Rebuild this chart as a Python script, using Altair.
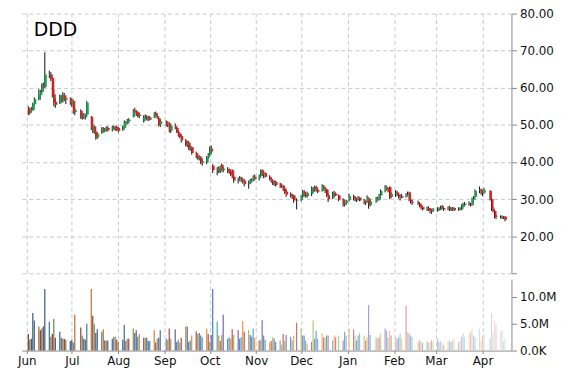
import altair as alt
import pandas as pd

ticker = "DDD"

month_keys = ["2014-06", "2014-07", "2014-08", "2014-09", "2014-10", "2014-11",
              "2014-12", "2015-01", "2015-02", "2015-03", "2015-04"]
month_days = [
    [2, 3, 4, 5, 6, 9, 10, 11, 12, 13, 16, 17, 18, 19, 20, 23, 24, 25, 26, 27, 30],
    [1, 2, 3, 7, 8, 9, 10, 11, 14, 15, 16, 17, 18, 21, 22, 23, 24, 25, 28, 29, 30, 31],
    [1, 4, 5, 6, 7, 8, 11, 12, 13, 14, 15, 18, 19, 20, 21, 22, 25, 26, 27, 28, 29],
    [2, 3, 4, 5, 8, 9, 10, 11, 12, 15, 16, 17, 18, 19, 22, 23, 24, 25, 26, 29, 30],
    [1, 2, 3, 6, 7, 8, 9, 10, 13, 14, 15, 16, 17, 20, 21, 22, 23, 24, 27, 28, 29, 30, 31],
    [3, 4, 5, 6, 7, 10, 11, 12, 13, 14, 17, 18, 19, 20, 21, 24, 25, 26, 28],
    [1, 2, 3, 4, 5, 8, 9, 10, 11, 12, 15, 16, 17, 18, 19, 22, 23, 24, 26, 29, 30, 31],
    [2, 5, 6, 7, 8, 9, 12, 13, 14, 15, 16, 20, 21, 22, 23, 26, 27, 28, 29, 30],
    [2, 3, 4, 5, 6, 9, 10, 11, 12, 13, 17, 18, 19, 20, 23, 24, 25, 26, 27],
    [2, 3, 4, 5, 6, 9, 10, 11, 12, 13, 16, 17, 18, 19, 20, 23, 24, 25, 26, 27, 30, 31],
    [1, 2, 6, 7, 8, 9, 10, 13, 14, 15, 16],
]

opens = [
    54.6, 53.2, 54.0, 54.0, 55.6, 57.0, 58.0, 59.0, 60.6, 60.2, 63.4, 63.6, 62.6, 58.2, 56.2, 55.8, 57.6, 56.6, 58.0, 56.8, 57.0,
    55.6, 56.4, 53.4, 53.8, 52.2, 52.4, 52.0, 52.8, 52.2, 48.2, 49.6, 48.0, 46.6, 47.8, 49.0, 48.4, 48.8, 49.2, 48.6, 49.4, 48.8, 49.4,
    49.2, 48.6, 49.2, 50.6, 50.6, 51.0, 52.2, 53.8, 53.6, 53.4, 52.4, 51.0, 52.2, 52.0, 51.6, 52.0, 52.0, 53.2, 52.4, 51.8, 50.2,
    51.0, 50.0, 50.4, 48.4, 49.6, 49.2, 48.0, 47.6, 47.0, 45.8, 44.6, 45.2, 43.6, 44.0, 42.4, 41.4, 41.0, 41.2, 39.8, 39.8, 41.2,
    42.0, 43.6, 39.0, 37.6, 38.2, 37.4, 39.2, 37.8, 38.0, 37.6, 37.4, 37.8, 36.0, 35.0, 35.4, 35.8, 34.8, 35.0, 34.2, 34.6, 35.0, 35.2, 36.0,
    35.6, 36.2, 37.8, 36.6, 37.0, 36.0, 35.4, 34.8, 34.2, 34.6, 34.2, 33.4, 33.6, 32.8, 32.0, 31.4, 30.8, 31.0, 29.6,
    29.8, 30.6, 32.0, 31.2, 30.8, 31.4, 32.8, 32.4, 33.2, 32.4, 32.2, 33.4, 32.6, 32.6, 31.0, 30.2, 31.6, 31.4, 31.0, 29.8, 28.6, 29.0,
    29.8, 30.8, 30.2, 29.8, 30.0, 30.4, 29.6, 29.0, 29.2, 30.2, 28.4, 29.4, 30.0, 29.8, 31.0, 32.2, 33.2, 32.6, 33.2, 30.6,
    31.4, 31.8, 31.2, 30.6, 30.8, 30.6, 31.2, 31.8, 29.8, 29.2, 29.0, 28.8, 28.2, 27.8, 27.4, 27.6, 27.2, 26.6, 27.0,
    27.0, 27.4, 27.2, 28.0, 27.6, 27.4, 27.8, 27.2, 27.2, 27.6, 27.0, 27.4, 27.2, 28.2, 28.4, 28.8, 28.6, 28.4, 29.8, 30.6, 32.2, 32.6,
    31.6, 31.8, 32.2, 30.0, 27.4, 26.8, 25.2, 25.2, 25.0, 25.2, 25.2,
]
highs = [
    55.0, 54.4, 54.8, 56.0, 57.4, 59.6, 59.4, 61.2, 61.4, 69.6, 64.6, 64.2, 62.8, 59.6, 57.0, 58.2, 58.0, 58.8, 58.6, 57.6, 57.4,
    57.2, 56.8, 54.6, 54.2, 53.0, 53.2, 53.0, 56.4, 52.4, 50.2, 49.8, 48.4, 48.0, 49.4, 49.4, 49.2, 49.6, 49.6, 49.8, 49.8, 49.6, 49.8,
    49.4, 49.8, 51.2, 51.0, 51.6, 51.8, 54.2, 54.6, 54.0, 53.6, 53.2, 52.6, 52.8, 52.6, 52.4, 52.4, 53.4, 53.6, 52.8, 52.0, 51.4,
    51.2, 50.6, 50.8, 50.2, 50.4, 49.6, 48.6, 48.0, 47.4, 46.2, 45.6, 45.6, 44.4, 44.2, 42.8, 42.2, 41.8, 41.6, 40.6, 41.6, 42.4,
    44.2, 44.4, 39.4, 38.6, 38.8, 39.0, 39.6, 38.6, 38.6, 38.2, 38.0, 38.0, 36.6, 35.8, 36.2, 36.0, 35.6, 35.4, 35.0, 35.4, 35.6, 36.4, 36.6,
    36.6, 38.0, 38.0, 37.4, 37.2, 36.4, 35.8, 35.2, 35.0, 35.0, 34.4, 34.0, 33.8, 33.0, 32.4, 31.8, 31.4, 31.2, 30.2,
    31.0, 32.4, 32.4, 31.8, 32.0, 33.4, 33.2, 33.6, 33.6, 32.8, 34.0, 33.8, 33.2, 32.8, 31.6, 32.0, 32.2, 31.8, 31.2, 30.2, 29.8, 29.8,
    31.4, 31.2, 30.6, 30.4, 30.8, 30.6, 30.0, 29.6, 31.0, 30.4, 29.8, 30.6, 30.6, 31.4, 32.6, 33.8, 33.6, 33.0, 33.4, 31.8,
    32.4, 32.2, 31.6, 31.2, 31.4, 31.6, 32.0, 32.0, 30.4, 29.8, 29.6, 29.2, 28.6, 28.2, 28.0, 28.0, 27.6, 27.4, 27.6,
    27.8, 27.8, 28.2, 28.4, 28.0, 28.0, 28.2, 27.8, 27.8, 27.8, 27.8, 27.8, 28.6, 29.0, 29.2, 29.4, 29.0, 30.4, 30.8, 32.6, 33.4, 32.8,
    32.2, 33.0, 32.4, 30.2, 27.8, 27.0, 25.8, 25.6, 25.6, 25.4, 25.4,
]
lows = [
    52.6, 52.8, 53.4, 53.8, 55.2, 56.6, 56.8, 58.6, 59.0, 60.0, 62.6, 61.8, 57.4, 55.0, 54.6, 55.6, 56.2, 56.0, 56.4, 55.6, 55.4,
    54.8, 53.0, 52.6, 51.6, 51.4, 51.6, 51.4, 52.4, 48.6, 47.8, 47.6, 46.0, 46.2, 47.6, 48.0, 48.0, 48.2, 48.2, 48.2, 48.6, 48.4, 48.4,
    48.0, 48.4, 49.0, 49.8, 50.2, 50.4, 52.0, 53.0, 52.4, 52.0, 51.8, 50.6, 51.6, 51.2, 51.0, 51.2, 51.8, 52.0, 51.6, 49.6, 49.4,
    49.6, 49.4, 48.0, 47.8, 48.8, 47.8, 46.8, 46.4, 45.2, 44.2, 44.0, 43.2, 43.0, 42.0, 41.0, 40.6, 40.4, 39.4, 39.0, 39.4, 40.8,
    41.6, 42.2, 37.0, 36.4, 37.0, 37.0, 37.4, 37.2, 37.0, 36.8, 36.2, 35.6, 34.4, 34.2, 34.8, 34.6, 34.2, 33.4, 32.8, 34.0, 34.4, 34.8, 35.0,
    35.0, 35.8, 36.2, 35.6, 35.8, 35.0, 34.4, 33.8, 33.6, 33.4, 33.0, 33.0, 32.2, 31.4, 30.6, 30.4, 30.0, 29.0, 27.2,
    29.4, 30.4, 30.8, 30.4, 30.4, 30.8, 31.8, 32.0, 32.0, 31.6, 32.0, 32.2, 31.6, 30.6, 29.2, 30.0, 30.6, 30.8, 29.4, 28.0, 28.0, 28.4,
    29.4, 29.6, 29.4, 29.2, 29.6, 29.4, 28.6, 28.4, 29.0, 27.4, 28.0, 29.0, 29.4, 29.6, 30.6, 31.8, 32.2, 31.8, 30.0, 30.2,
    30.6, 30.8, 30.2, 29.6, 30.2, 30.4, 30.8, 29.4, 28.8, 28.4, 28.4, 27.8, 27.2, 27.0, 26.8, 26.8, 26.2, 26.0, 26.6,
    26.6, 26.8, 27.0, 27.2, 26.8, 27.0, 26.8, 26.8, 26.8, 26.8, 26.8, 27.0, 27.0, 27.8, 28.0, 28.2, 28.0, 28.2, 29.4, 30.4, 31.6, 31.2,
    30.8, 31.4, 29.6, 26.8, 26.4, 24.8, 24.6, 24.8, 24.6, 24.6, 24.0,
]
closes = [
    53.0, 54.0, 54.2, 55.6, 57.0, 58.2, 59.0, 60.8, 60.0, 63.6, 63.8, 62.4, 58.0, 56.0, 55.4, 57.8, 56.6, 58.2, 56.8, 57.2, 55.8,
    56.6, 53.4, 54.0, 52.0, 52.6, 52.2, 52.8, 56.0, 49.0, 49.8, 48.0, 46.6, 47.6, 49.0, 48.4, 48.8, 49.2, 48.6, 49.4, 48.8, 49.2, 48.6,
    48.4, 49.4, 50.8, 50.4, 51.2, 51.4, 53.8, 53.4, 52.8, 52.2, 52.8, 52.2, 52.0, 51.6, 52.0, 51.4, 53.0, 52.4, 52.0, 50.0, 51.0,
    50.0, 50.4, 48.4, 49.8, 49.2, 48.0, 47.2, 46.8, 45.8, 44.6, 45.2, 43.6, 44.0, 42.4, 41.4, 41.0, 41.4, 39.8, 40.2, 41.2, 42.0,
    43.8, 42.8, 37.8, 38.2, 37.4, 38.8, 37.8, 38.2, 37.4, 37.2, 36.6, 36.0, 35.0, 35.4, 35.8, 34.8, 35.2, 34.0, 34.6, 35.0, 35.2, 36.0, 35.4,
    36.2, 37.6, 36.6, 37.0, 36.0, 35.4, 34.8, 34.2, 34.6, 33.8, 33.4, 33.6, 32.6, 31.8, 31.2, 30.8, 31.0, 29.6, 29.8,
    30.6, 32.0, 31.2, 30.8, 31.6, 33.0, 32.2, 33.2, 32.4, 32.0, 33.6, 32.6, 32.8, 31.0, 30.0, 31.6, 31.0, 31.0, 29.8, 28.6, 29.2, 29.6,
    30.8, 30.2, 29.8, 30.0, 30.4, 29.6, 29.0, 29.4, 30.6, 28.4, 29.4, 30.2, 29.8, 31.0, 32.2, 33.4, 32.6, 32.0, 30.4, 31.4,
    31.8, 31.2, 30.6, 30.8, 30.4, 31.2, 31.4, 29.8, 29.2, 29.0, 28.8, 28.0, 27.6, 27.2, 27.6, 27.0, 26.6, 27.0, 27.2,
    27.4, 27.2, 28.0, 27.6, 27.2, 27.8, 27.2, 27.4, 27.6, 27.0, 27.4, 27.2, 28.4, 28.4, 28.8, 28.6, 28.4, 30.0, 30.4, 32.2, 32.6, 31.6,
    31.8, 32.4, 30.0, 27.4, 26.8, 25.2, 25.4, 25.0, 25.2, 24.8, 24.4,
]
volumes_m = [
    3.1, 2.0, 2.2, 7.0, 5.6, 4.5, 3.8, 4.1, 4.5, 11.5, 5.4, 2.6, 3.1, 5.9, 2.4, 3.5, 2.4, 2.2, 2.2, 2.0, 1.8,
    2.0, 1.5, 6.7, 4.3, 2.8, 2.2, 2.0, 5.0, 11.5, 6.5, 4.9, 3.3, 4.0, 3.5, 4.0, 1.9, 1.9, 1.9, 2.2, 2.6, 2.6, 2.0,
    1.6, 2.0, 4.8, 1.8, 2.2, 2.2, 4.1, 3.3, 3.8, 2.6, 3.1, 2.4, 2.4, 2.4, 1.8, 1.8, 3.8, 1.5, 2.2, 2.4, 3.8,
    2.2, 2.0, 4.1, 2.2, 4.0, 1.6, 2.0, 1.5, 2.4, 4.5, 4.5, 1.6, 1.9, 2.8, 3.6, 3.1, 3.3, 2.8, 2.5, 4.1, 3.1,
    1.6, 2.9, 11.5, 5.4, 2.8, 1.8, 2.9, 6.7, 2.2, 2.5, 2.2, 4.0, 2.9, 3.8, 2.2, 2.5, 5.5, 3.5, 3.8, 2.9, 2.6, 4.1, 2.4,
    1.9, 2.0, 5.7, 2.8, 2.0, 1.5, 1.8, 2.5, 2.2, 1.6, 1.9, 1.1, 3.1, 1.8, 2.9, 2.6, 1.9, 2.8, 5.2,
    4.1, 2.8, 2.8, 1.9, 1.3, 1.6, 5.6, 2.2, 3.7, 2.2, 3.2, 2.5, 2.4, 2.8, 2.8, 1.9, 2.8, 2.5, 2.8, 1.9, 3.5, 2.8,
    4.1, 4.0, 2.8, 1.9, 2.8, 3.2, 2.8, 1.9, 2.5, 8.5, 2.9, 2.5, 2.2, 2.5, 3.2, 4.1, 3.7, 2.4, 3.7, 2.8,
    2.5, 2.2, 2.5, 3.2, 2.2, 8.4, 3.5, 3.2, 2.8, 2.5, 1.6, 1.9, 1.7, 1.4, 1.7, 1.4, 1.6, 1.9, 1.7,
    2.2, 1.6, 1.7, 1.4, 1.0, 1.7, 1.9, 1.6, 1.9, 2.2, 1.6, 1.8, 2.6, 3.2, 2.5, 3.0, 3.5, 4.1, 2.8, 2.5, 4.1, 1.9,
    2.8, 3.2, 2.2, 7.0, 3.2, 5.7, 4.8, 3.5, 3.7, 1.6, 2.2,
]

price_ticks = [10, 20, 30, 40, 50, 60, 70, 80]
volume_ticks = [0, 5, 10]

dates = [f"{m}-{d:02d}T00:00:00" for m, days in zip(month_keys, month_days) for d in days]

# volume bar colours: office-like accents, darker early, paler late
accents = ["#C0504D", "#9BBB59", "#8064A2", "#4F81BD", "#4BACC6", "#F79646"]


def mix(hexc, target, amt):
    r, g, b = int(hexc[1:3], 16), int(hexc[3:5], 16), int(hexc[5:7], 16)
    t = target
    return "#%02x%02x%02x" % (round(r + (t[0] - r) * amt), round(g + (t[1] - g) * amt), round(b + (t[2] - b) * amt))


n = len(dates)
bar_colors = []
for i in range(n):
    t = i / (n - 1)
    base = accents[i % len(accents)]
    if t < 0.45:
        bar_colors.append(mix(base, (0, 0, 0), 0.35 * (1 - t / 0.45)))
    else:
        bar_colors.append(mix(base, (255, 255, 255), 0.75 * (t - 0.45) / 0.55))

df = pd.DataFrame({
    "date": dates, "open": opens, "high": highs, "low": lows, "close": closes,
    "volume": volumes_m, "vcolor": bar_colors,
})
df["dir"] = ["up" if c >= o else "down" for o, c in zip(opens, closes)]

label_df = pd.DataFrame({"label": [ticker], "date": [f"{month_keys[0]}-01T00:00:00"], "y": [max(price_ticks)]})

FONT = "DejaVu Sans"
GRID = "#c8c8c8"
AXC = "#8a8a8a"

x_scale = alt.Scale(domain=[alt.DateTime(year=2014, month=6, date=1),
                            alt.DateTime(year=2015, month=4, date=17)])
month_step = {"interval": "month", "step": 1}

x_grid_axis = alt.Axis(orient="top", grid=True, gridDash=[4, 3], gridColor=GRID, labels=False, ticks=False,
                       domain=False, title=None, tickCount=month_step, minExtent=0, maxExtent=0)
x_label_axis = alt.Axis(grid=True, gridDash=[4, 3], gridColor=GRID, format="%b", tickCount=month_step,
                        title=None, domainColor=AXC, tickColor=AXC, tickSize=3, labelPadding=2,
                        labelFlush=False, labelOverlap=False,
                        labelFont=FONT, labelFontSize=12, labelColor="#111")

price_scale = alt.Scale(domain=[10, 80], nice=False, zero=False)
price_axis = alt.Axis(orient="right", values=price_ticks, title=None, labelOverlap=False,
                      labelFlush=False, labelBound=False,
                      labelExpr="datum.value == 10 ? '' : format(datum.value, '.2f')",
                      grid=True, gridDash=[4, 3], gridColor=GRID, domainColor=AXC, tickColor=AXC,
                      tickSize=5, labelPadding=3, labelFont=FONT, labelFontSize=12, labelColor="#111")

base = alt.Chart(df).encode(x=alt.X("date:T", scale=x_scale, axis=x_grid_axis))
wick = base.mark_rule(color="#111", strokeWidth=1).encode(
    y=alt.Y("low:Q", scale=price_scale, axis=price_axis), y2="high:Q")
body = base.mark_bar(width=2, xOffset=1).encode(
    y=alt.Y("open:Q", scale=price_scale, axis=price_axis),
    y2="close:Q",
    color=alt.Color("dir:N", scale=alt.Scale(domain=["up", "down"], range=["#17a558", "#ee1b1b"]), legend=None),
)
title_text = alt.Chart(label_df).mark_text(
    align="left", baseline="alphabetic", dx=7, dy=23, fontSize=19, font=FONT, color="#000"
).encode(x=alt.X("date:T", scale=x_scale, axis=x_grid_axis),
         y=alt.Y("y:Q", scale=price_scale, axis=price_axis), text="label:N")

price = alt.layer(wick, body, title_text).properties(width=494, height=262)

vol_axis = alt.Axis(orient="right", values=volume_ticks, title=None, grid=False, labelOverlap=False,
                    labelExpr="datum.value == 0 ? '0.0K' : format(datum.value, '.1f') + 'M'",
                    domainColor=AXC, tickColor=AXC, tickSize=5, labelPadding=3,
                    labelFont=FONT, labelFontSize=12, labelColor="#111")
volume = alt.Chart(df).mark_bar(width=1.2).encode(
    x=alt.X("date:T", scale=x_scale, axis=x_label_axis),
    y=alt.Y("volume:Q", scale=alt.Scale(domain=[0, 13.33], nice=False), axis=vol_axis),
    color=alt.Color("vcolor:N", scale=None),
).properties(width=494, height=72)

chart = alt.vconcat(price, volume, spacing=0).properties(
    padding={"left": 9, "top": -2, "right": 5, "bottom": 5},
    background="white",
).configure_view(stroke=None)

chart.save("out.html", embed_options={"renderer": "svg", "actions": False})
